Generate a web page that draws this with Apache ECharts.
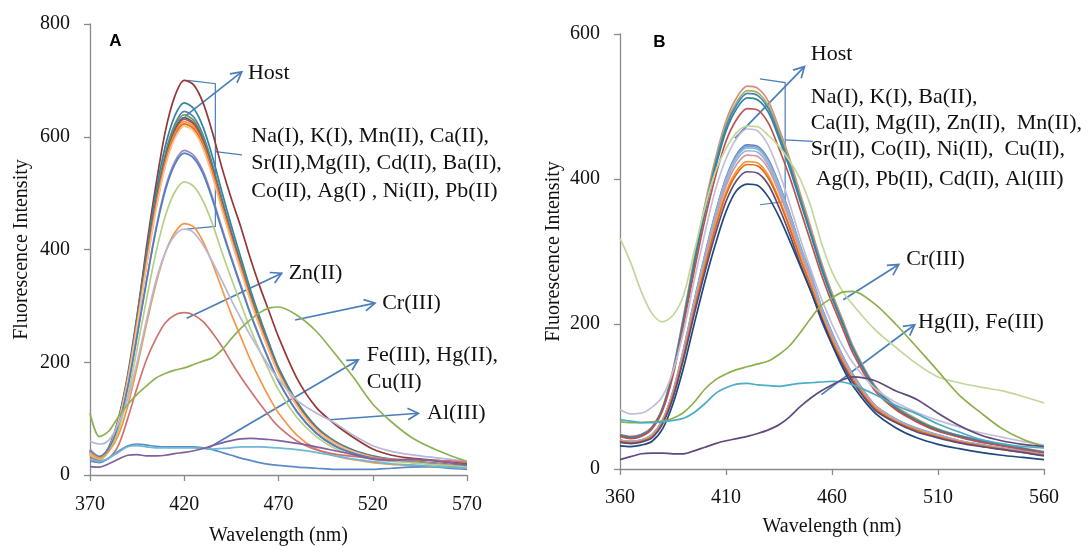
<!DOCTYPE html>
<html><head><meta charset="utf-8">
<script src="https://cdn.jsdelivr.net/npm/echarts@6/dist/echarts.min.js"></script>
<style>html,body{margin:0;padding:0;background:#fff}#c{width:1091px;height:546px}</style>
</head><body><div id="c"></div>
<script>
// ---------- Panel A data (wavelength nm) ----------
const waveA = [370,375,380,385,390,395,400,405,410,415,420,425,430,435,440,445,450,455,460,465,470,480,490,500,510,520,530,540,550,560,570];
const hostA = [40,30,45,90,170,280,405,515,610,672,700,692,660,607,545,490,440,385,335,290,245,170,120,90,66,46,35,30,27,24,20];
const naA = [45,30,50,99,178,284,396,502,584,637,660,650,617,564,502,442,386,330,280,234,191,129,86,60,44,34,28,25,22,19,16];
const kA  = [44,30,48,97,174,277,387,490,571,622,645,635,603,551,490,432,377,323,274,229,187,126,84,58,43,33,27,24,21,18,15];
const mnA = [40,29,47,96,173,275,383,486,566,617,639,629,597,546,486,428,374,320,272,227,185,125,83,58,42,32,27,24,21,18,15];
const caA = [42,31,48,95,171,273,380,482,561,612,634,624,593,542,482,425,371,317,269,225,184,124,82,57,42,32,27,24,21,18,15];
const srA = [38,28,46,95,170,271,379,480,558,609,631,622,590,540,480,423,369,316,268,224,183,123,82,57,41,32,27,24,21,18,15];
const mgA = [40,30,47,94,169,270,376,477,555,605,627,618,586,536,477,420,367,314,266,223,182,122,81,57,41,32,27,24,21,18,15];
const cdA = [36,27,45,93,168,268,374,473,551,601,623,614,583,533,473,417,364,312,265,221,181,122,81,56,41,31,26,23,20,17,14];
const baA = [38,29,46,93,167,266,371,470,548,597,619,610,579,529,470,415,362,310,263,220,180,121,80,56,41,31,26,23,20,17,14];
const coA = [45,33,48,86,156,248,346,438,510,556,576,567,539,492,438,386,337,288,245,204,167,112,75,52,38,30,26,23,20,17,15];
const agA = [43,32,47,86,154,246,343,434,505,551,571,562,534,488,434,383,334,286,243,203,166,111,74,51,38,30,26,23,20,17,15];
const niA = [35,28,42,78,140,224,312,395,460,502,520,512,486,445,395,348,304,260,221,185,151,101,68,47,35,28,24,22,19,17,14];
const pbA = [40,30,42,70,122,192,268,339,395,430,446,440,414,375,330,285,245,205,170,138,110,70,46,34,27,22,19,17,15,14,12];
const alA = [60,55,62,90,135,200,275,345,395,425,436,430,408,378,345,310,278,248,220,193,170,132,110,92,70,52,42,36,32,28,24];
const znA = [32,25,30,52,100,155,205,242,270,284,288,284,272,252,228,200,174,150,127,105,86,60,45,37,33,30,28,27,26,25,22];
const crA = [110,68,78,103,125,143,158,172,180,186,190,196,202,208,222,242,260,275,288,296,298,283,255,215,172,126,94,68,50,36,24];
const feA = [25,22,30,42,52,55,53,51,50,50,50,50,48,45,40,35,30,26,22,19,17,14,12,10,10,10,12,14,15,12,10];
const hgA = [28,24,30,40,50,52,50,48,48,48,48,48,47,46,47,48,50,50,50,49,48,45,40,34,28,24,20,18,16,14,12];
const cuA = [15,14,20,28,35,36,34,34,35,38,40,43,47,52,57,61,64,65,64,63,61,56,50,43,36,28,26,28,26,22,18];

// ---------- Panel B data ----------
const waveB = [360,365,370,375,380,385,390,395,400,405,410,415,420,425,430,435,440,445,450,455,460,465,470,480,490,500,510,520,530,540,550,560];
const hostB = [48,45,48,58,84,137,211,290,364,428,480,512,528,525,507,470,428,380,333,285,243,206,169,116,87,69,55,46,40,34,29,24];
const naB = [47,44,47,57,84,136,209,287,360,423,475,506,522,519,501,465,423,376,329,282,240,204,167,115,86,68,55,46,39,34,29,23];
const kB  = [47,44,47,57,83,135,207,285,357,420,471,502,518,515,497,461,420,373,326,280,238,202,166,114,85,67,54,46,39,34,28,23];
const baB = [46,44,46,56,82,133,205,282,353,415,466,497,512,509,492,456,415,369,323,276,236,200,164,113,84,67,54,45,38,33,28,23];
const caB = [45,42,45,55,80,129,199,273,343,403,452,482,497,495,477,442,403,358,313,268,229,194,159,109,82,65,52,44,37,32,27,22];
const mgB = [318,285,245,215,203,212,240,300,360,410,442,464,473,472,460,445,425,400,362,312,272,245,226,193,168,145,127,119,113,108,100,91];
const znB = [82,76,77,85,100,135,190,260,325,385,428,456,469,466,446,410,366,318,275,235,200,170,146,112,92,78,67,58,50,44,38,33];
const mnB = [40,38,40,47,67,107,165,232,295,353,402,434,447,445,427,393,353,308,268,224,188,156,130,89,69,56,47,39,34,29,25,20];
const srB = [40,38,40,47,67,107,165,231,294,352,401,432,445,443,425,392,352,307,267,223,187,156,129,89,69,56,47,39,33,29,24,20];
const coB = [40,38,40,47,66,106,164,230,292,350,399,430,443,441,423,390,350,306,266,222,186,155,128,89,69,55,47,39,33,29,24,20];
const niB = [40,37,40,46,66,105,162,228,290,347,395,426,439,437,419,386,347,303,263,220,184,154,127,88,68,55,46,39,33,29,24,20];
const cuB = [39,37,39,45,65,104,160,225,286,342,390,420,433,431,414,381,342,299,260,217,182,152,126,87,67,54,45,38,32,28,24,19];
const agB = [38,36,38,45,64,102,157,220,280,335,382,411,424,422,405,373,335,293,254,212,178,148,123,85,66,53,45,37,32,28,23,19];
const pbB = [38,36,38,44,63,101,155,218,277,332,378,407,420,418,401,370,332,290,252,210,176,147,122,84,65,53,44,37,32,27,23,19];
const cdB = [37,35,37,43,62,98,152,213,271,324,369,398,410,408,392,361,324,283,246,205,172,144,119,82,64,51,43,36,31,27,23,18];
const alB = [32,31,33,38,55,90,140,200,258,310,355,384,393,391,375,348,315,280,245,208,172,140,114,78,57,43,34,28,23,19,16,13];
const crB = [65,64,64,65,66,70,78,92,110,123,131,137,141,145,149,158,170,188,208,226,236,244,245,228,200,168,135,102,78,56,41,31];
const hgB = [68,66,64,64,65,67,70,78,90,104,112,117,118,116,115,114,116,118,119,120,121,120,116,103,88,76,62,51,41,35,31,29];
const feB = [13,17,21,22,22,21,21,25,30,35,39,42,45,49,54,61,72,86,98,108,116,123,127,122,108,96,77,60,47,39,34,31];

const seriesA = [
  ['Host', hostA], ['Na(I)', naA], ['K(I)', kA], ['Mn(II)', mnA], ['Ca(II)', caA], ['Sr(II)', srA],
  ['Mg(II)', mgA], ['Cd(II)', cdA], ['Ba(II)', baA], ['Co(II)', coA], ['Ag(I)', agA], ['Ni(II)', niA],
  ['Pb(II)', pbA], ['Al(III)', alA], ['Zn(II)', znA], ['Cr(III)', crA], ['Fe(III)', feA], ['Hg(II)', hgA], ['Cu(II)', cuA]
];
const seriesB = [
  ['Host', hostB], ['Na(I)', naB], ['K(I)', kB], ['Ba(II)', baB], ['Ca(II)', caB], ['Mg(II)', mgB],
  ['Zn(II)', znB], ['Mn(II)', mnB], ['Sr(II)', srB], ['Co(II)', coB], ['Ni(II)', niB], ['Cu(II)', cuB],
  ['Ag(I)', agB], ['Pb(II)', pbB], ['Cd(II)', cdB], ['Al(III)', alB], ['Cr(III)', crB], ['Hg(II)', hgB], ['Fe(III)', feB]
];

// ---------- styles ----------
const colorsA = ['#953735','#31859C','#4F81BD','#77933C','#376092','#C0504D','#F79646','#E46C0A','#FAC090',
  '#9E86C2','#4F81BD','#B5CF84','#F79646','#B8B7D6','#CD7371','#8DB255','#5B8BC4','#6CB8D6','#7F5FA0'];
const colorsB = ['#DA8A87','#9BBB59','#4F81BD','#31859C','#C0504D','#C3D69B','#C4BDD7','#5B86C0','#7DA3D6',
  '#95B3D7','#8EB4E3','#D99694','#F79646','#E46C0A','#604A7B','#1F497D','#8DB04A','#4BACC6','#604A7B'];

const SERIF = '"Liberation Serif","Times New Roman",serif';
const chart = echarts.init(document.getElementById('c'), null, {renderer: 'canvas'});

function mk(list, wave, colors, idx) {
  return list.map((s, i) => ({
    type: 'line', name: s[0], xAxisIndex: idx, yAxisIndex: idx,
    data: wave.map((x, j) => [x, s[1][j]]),
    showSymbol: false, smooth: 0.3, silent: true,
    lineStyle: {width: 1.7, color: colors[i]}, itemStyle: {color: colors[i]}
  }));
}

function xAxis(idx, min, max, gap, margin) {
  return {
    gridIndex: idx, type: 'value', min: min, max: max, interval: 50,
    name: 'Wavelength (nm)', nameLocation: 'middle', nameGap: gap,
    nameTextStyle: {fontFamily: SERIF, fontSize: 20, color: '#111'},
    axisLine: {show: true, onZero: false, lineStyle: {color: '#8a8a8a', width: 1.3}},
    axisTick: {show: true, inside: false, length: 6, lineStyle: {color: '#8a8a8a', width: 1.3}},
    axisLabel: {fontFamily: SERIF, fontSize: 20, color: '#111', margin: margin},
    splitLine: {show: false}
  };
}
function yAxis(idx, max, gap) {
  return {
    gridIndex: idx, type: 'value', min: 0, max: max, interval: 200,
    name: 'Fluorescence Intensity', nameLocation: 'middle', nameGap: gap, nameRotate: 90,
    nameTextStyle: {fontFamily: SERIF, fontSize: 20, color: '#111'},
    axisLine: {show: true, lineStyle: {color: '#8a8a8a', width: 1.3}},
    axisTick: {show: true, inside: false, length: 6, lineStyle: {color: '#8a8a8a', width: 1.3}},
    axisLabel: {fontFamily: SERIF, fontSize: 20, color: '#111', margin: 20},
    splitLine: {show: false}
  };
}

chart.setOption({
  animation: false,
  backgroundColor: '#fff',
  grid: [
    {left: 90, top: 24, width: 377, height: 451, outerBoundsMode: 'none', containLabel: false},
    {left: 620, top: 34, width: 424, height: 435, outerBoundsMode: 'none', containLabel: false}
  ],
  xAxis: [xAxis(0, 370, 570, 51, 20), xAxis(1, 360, 560, 48, 19)],
  yAxis: [yAxis(0, 800, 58), yAxis(1, 600, 56)],
  series: mk(seriesA, waveA, colorsA, 0).concat(mk(seriesB, waveB, colorsB, 1))
});

// ---------- annotations (data coordinates) ----------
const arrowsDef = [
  {g: 0, from: [420.4, 636], to: [450.5, 715]},
  {g: 0, from: [421.3, 278], to: [471.7, 358]},
  {g: 0, from: [478.8, 275], to: [521.2, 305]},
  {g: 0, from: [431.9, 46], to: [512.3, 204]},
  {g: 0, from: [497.3, 98], to: [544.2, 109.5]},
  {g: 1, from: [414.2, 456], to: [447, 555]},
  {g: 1, from: [465.3, 233.5], to: [491.5, 282]},
  {g: 1, from: [455, 102.5], to: [499, 199]}
];
const bracketsDef = [
  {g: 0, pts: [[422, 700], [436.5, 694], [436.5, 441], [421.3, 436]]},
  {g: 0, pts: [[436.5, 573.5], [450.6, 568]]},
  {g: 1, pts: [[426, 538], [437.9, 533], [437.9, 369], [426, 364.5]]},
  {g: 1, pts: [[437.9, 454], [451, 452]]}
];
const textsDef = [
  {g: 0, at: [453.8, 713], t: 'Host'},
  {g: 0, at: [455.6, 601.8], t: 'Na(I), K(I), Mn(II), Ca(II),'},
  {g: 0, at: [455.6, 552.4], t: 'Sr(II),Mg(II), Cd(II), Ba(II),'},
  {g: 0, at: [455.6, 504.2], t: 'Co(II), Ag(I) , Ni(II), Pb(II)'},
  {g: 0, at: [475.4, 357.8], t: 'Zn(II)'},
  {g: 0, at: [525, 305], t: 'Cr(III)'},
  {g: 0, at: [516.8, 212.5], t: 'Fe(III), Hg(II),'},
  {g: 0, at: [516.8, 164.5], t: 'Cu(II)'},
  {g: 0, at: [548.8, 109], t: 'Al(III)'},
  {g: 1, at: [450, 572.6], t: 'Host'},
  {g: 1, at: [450, 512.7], t: 'Na(I), K(I), Ba(II),'},
  {g: 1, at: [450, 476.7], t: 'Ca(II), Mg(II), Zn(II),  Mn(II),'},
  {g: 1, at: [450, 440.7], t: 'Sr(II), Co(II), Ni(II),  Cu(II),'},
  {g: 1, at: [452.3, 399.8], t: 'Ag(I), Pb(II), Cd(II), Al(III)'},
  {g: 1, at: [495, 289.5], t: 'Cr(III)'},
  {g: 1, at: [500.6, 203], t: 'Hg(II), Fe(III)'}
];
const panelDef = [
  {g: 0, at: [383.5, 768.5], t: 'A'},
  {g: 1, at: [378.6, 588], t: 'B'}
];

const firstB = seriesA.length;
function P(g, pt) { return chart.convertToPixel({seriesIndex: g === 0 ? 0 : firstB}, pt); }
const BLUE = '#4A7EBB';
const els = [];
arrowsDef.forEach(a => {
  const p0 = P(a.g, a.from), p1 = P(a.g, a.to);
  els.push({type: 'line', silent: true, shape: {x1: p0[0], y1: p0[1], x2: p1[0], y2: p1[1]},
    style: {stroke: BLUE, lineWidth: 1.7}});
  const ang = Math.atan2(p1[1] - p0[1], p1[0] - p0[0]);
  const L = 12, w = 0.5;
  const pa = [p1[0] - L * Math.cos(ang - w), p1[1] - L * Math.sin(ang - w)];
  const pb = [p1[0] - L * Math.cos(ang + w), p1[1] - L * Math.sin(ang + w)];
  els.push({type: 'polyline', silent: true, shape: {points: [pa, p1, pb]},
    style: {stroke: BLUE, lineWidth: 1.7, fill: null}});
});
bracketsDef.forEach(b => {
  els.push({type: 'polyline', silent: true, shape: {points: b.pts.map(p => P(b.g, p))},
    style: {stroke: BLUE, lineWidth: 1.2, fill: null}});
});
textsDef.forEach(t => {
  const p = P(t.g, t.at);
  els.push({type: 'text', silent: true, x: p[0], y: p[1],
    style: {text: t.t, fontFamily: SERIF, fontSize: 22, fill: '#111', align: 'left', verticalAlign: 'middle'}});
});
panelDef.forEach(t => {
  const p = P(t.g, t.at);
  els.push({type: 'text', silent: true, x: p[0], y: p[1],
    style: {text: t.t, fontFamily: '"Liberation Sans",Arial,sans-serif', fontWeight: 'bold', fontSize: 17,
      fill: '#000', align: 'center', verticalAlign: 'middle'}});
});
chart.setOption({graphic: els});
</script>
</body></html>
